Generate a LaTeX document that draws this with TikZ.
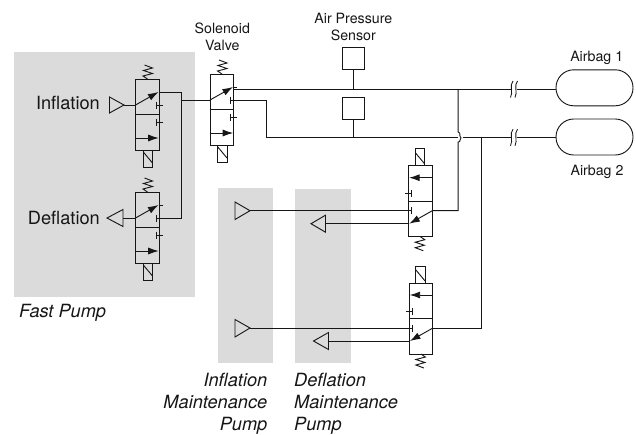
\documentclass[tikz,border=0pt]{standalone}
\usepackage{fontspec}
\setmainfont{TeX Gyre Heros}
\usetikzlibrary{arrows.meta}
\definecolor{ink}{HTML}{161616}
\definecolor{panel}{HTML}{DBDBDB}
\tikzset{
  wire/.style={draw=ink,line width=0.92pt,line join=miter},
  head/.style={-{Latex[length=10.5pt,width=7pt]}},
  panelbox/.style={fill=panel,draw=none},
  bigtxt/.style={inner sep=0pt,text=ink,font=\fontsize{18.2}{22.2}\selectfont},
  captxt/.style={inner sep=0pt,text=ink,font=\itshape\fontsize{18.2}{22}\selectfont},
  smalltxt/.style={inner sep=0pt,text=ink,align=center,font=\fontsize{14.2}{16.7}\selectfont},
  sensorbox/.style={wire,inner sep=0pt,minimum width=22pt,minimum height=22pt},
  bagbox/.style={wire,inner sep=0pt,rounded corners=17.8pt,minimum width=77pt,minimum height=36pt},
  airtri/.style={wire,line join=miter}
}
% #1 name, #2 x, #3 y, #4 rotation
\newcommand\valvesym[4]{%
  \begin{scope}[shift={(#2,#3)},rotate around={#4:(11.8,35.5)}]
    \draw[wire] (0,0) rectangle (23.6,71);
    \draw[wire] (0,35.5) -- (23.6,35.5);
    % spring
    \draw[wire] (12,0) -- (7.5,-3) -- (17,-5.5) -- (8,-8.5) -- (17,-11) -- (9,-14);
    % solenoid
    \draw[wire] (7.6,71) rectangle (17.2,88);
    \draw[wire] (7.8,73) -- (17,84);
    % diagonal
    \draw[wire,head] (0,26) -- (23,13);
    \draw[wire] (23,13) -- (27,13);
    % blocked ports
    \draw[wire] (20.6,22.5) -- (20.6,29.5) (20.6,26) -- (27,26);
    \draw[wire] (20.6,39.5) -- (20.6,46.5) (20.6,43) -- (27,43);
    % straight path
    \draw[wire,head] (0,59) -- (23.2,59);
    \coordinate (#1-diagin) at (0,26);
    \coordinate (#1-diagout) at (23.6,13);
    \coordinate (#1-block) at (20.6,26);
  \end{scope}}
\newcommand\brk[2]{% wavy line break
  \draw[wire,line width=0.85pt] (#1+1.5,#2-8.5) .. controls (#1-2.5,#2-4) and (#1+2,#2+3) .. (#1-1,#2+8);}
\begin{document}
\begin{tikzpicture}[x=1pt,y=-1pt]
\useasboundingbox (0,0) rectangle (636,434);
% panels
\fill[panelbox] (14,52) rectangle (195,297);
\fill[panelbox] (218,188) rectangle (273,363);
\fill[panelbox] (295,189) rectangle (351,363);
% valves
\valvesym{vi}{135.5}{79}{0}
\valvesym{vd}{135.5}{192}{0}
\valvesym{vs}{210}{74}{0}
\valvesym{vu}{408.7}{165.7}{180}
\valvesym{vl}{409.3}{283}{180}
% triangles
\coordinate (infl) at (124,105);
\coordinate (defl) at (123,218);
\coordinate (mi1) at (250,210.7);
\coordinate (md1) at (325.5,223.7);
\coordinate (mi2) at (250,328);
\coordinate (md2) at (328.5,341);
\draw[airtri] (infl) -- (109.5,97) -- (109.5,113) -- cycle;
\draw[airtri] (defl) ++(0,-8.5) -- (107,218) -- ++(16,8.5) -- cycle;
\draw[airtri] (mi1) -- (235,202) -- (235,219.5) -- cycle;
\draw[airtri] (mi2) -- (235,319.5) -- (235,337) -- cycle;
\draw[airtri] (md1) ++(0,-8.5) -- (311,223.7) -- ++(14.5,8.5) -- cycle;
\draw[airtri] (md2) ++(0,-8.5) -- (313.5,341) -- ++(15,8.5) -- cycle;
% sensors and airbags
\node[sensorbox,draw] (s1) at (353.5,58.7) {};
\node[sensorbox,draw] (s2) at (353.5,108) {};
\node[bagbox,draw] (bag1) at (594.5,87.8) {};
\node[bagbox,draw] (bag2) at (594.5,137) {};
\coordinate (j1) at (s1.south |- 0,89.5);
\coordinate (j2) at (s2.south |- 0,137.7);
\draw[wire] (s1.south) -- (j1);
\draw[wire] (s2.south) -- (j2);
% fast pump wiring
\draw[wire] (infl) -- (vi-diagin);
\draw[wire] (defl) -- (vd-diagin);
\coordinate (fj) at (181.5,100);
\draw[wire] (vi-diagout) -- (181.5,92) -- (181.5,218) -- (vd-block);
\draw[wire] (fj) -- (vs-diagin);
% main lines
\draw[wire] (233.6,89.5) -- (j1) -- (511.5,89.5);
\draw[wire] (516.5,89.5) -- (bag1.west |- j1);
\draw[wire] (vs-block) -- (266,100) -- (266,137.7) -- (j2) -- (457.5,137.7);
\draw[wire] (462.8,137.7) -- (511.5,137.7);
\draw[wire] (516.5,137.7) -- (bag2.west |- j2);
\brk{511.5}{89.5}\brk{516}{89.5}
\brk{511.5}{137.7}\brk{516}{137.7}
% lower right wiring
\draw[wire] (458.2,89.5) -- (458.2,132)
  .. controls (461.5,133) and (458.5,136.5) .. (461,137.7)
  .. controls (458.5,139) and (461.5,142) .. (458.2,142)
  -- (458.2,210.7) -- (vu-diagin);
\draw[wire] (481,137.7) -- (481,328) -- (vl-diagin);
\draw[wire] (mi1) -- (vu-block);
\draw[wire] (mi2) -- (vl-block);
\draw[wire] (md1) -- (vu-diagout);
\draw[wire] (md2) -- (vl-diagout);
% labels
\node[bigtxt,anchor=base east] (tinfl) at (100,109) {Inflation};
\node[bigtxt,anchor=base east] (tdefl) at (100,224) {Deflation};
\node[captxt,anchor=base west] (tfast) at (19,317.7) {Fast Pump};
\node[smalltxt,anchor=south] (tsol) at (222.3,51) {Solenoid\\Valve};
\node[smalltxt,anchor=south] (tair) at (353.3,40.5) {Air Pressure\\Sensor};
\node[smalltxt,anchor=base] (tb1) at (596.7,61) {Airbag 1};
\node[smalltxt,anchor=base] (tb2) at (597,175) {Airbag 2};
\node[captxt,align=right,anchor=north east] (tim) at (267.5,372.5) {Inflation\\Maintenance\\Pump};
\node[captxt,align=left,anchor=north west] (tdm) at (294,372.5) {Deflation\\Maintenance\\Pump};
\end{tikzpicture}
\end{document}
